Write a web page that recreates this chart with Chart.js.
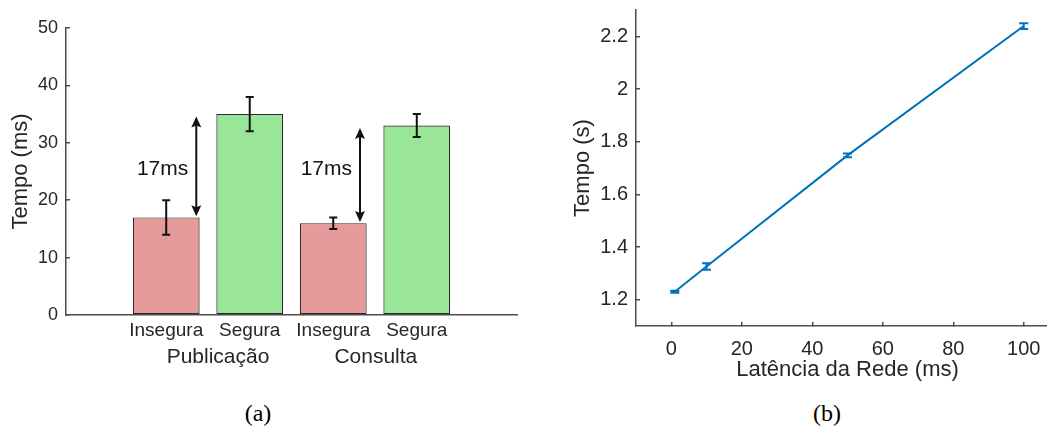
<!DOCTYPE html>
<html>
<head>
<meta charset="utf-8">
<script src="https://cdn.jsdelivr.net/npm/chart.js@4.4.1/dist/chart.umd.min.js"></script>
<style>
  html, body { margin: 0; padding: 0; background: #fff; overflow: hidden; }
  body { width: 1047px; height: 430px; position: relative; }
  canvas { position: absolute; top: 0; }
  #chartA { left: 0; }
  #chartB { left: 560px; }
  .caption {
    position: absolute; top: 400px; line-height: 28px;
    font: 24px "Liberation Serif", "Times New Roman", serif; color: #000;
    transform: translateX(-50%);
  }
</style>
</head>
<body>
<canvas id="chartA" width="530" height="390"></canvas>
<canvas id="chartB" width="499" height="390"></canvas>
<div class="caption" style="left:258px">(a)</div>
<div class="caption" style="left:827px">(b)</div>
<script>
// (a) tempo por operação
const barLabels = ['Insegura', 'Segura', 'Insegura', 'Segura'];
const barPos = [1, 2, 3, 4];
const barValues = [17, 35, 16, 33];
const barErrors = [3, 3, 1, 2];
const barColors = ['#e69999', '#99e699', '#e69999', '#99e699'];
const groupLabels = ['Publicação', 'Consulta'];
const groupPos = [1.62, 3.51];
const yTicksA = [0, 10, 20, 30, 40, 50];

// setas de diferença
const gapLabels = ['17ms', '17ms'];
const gapX = [1.36, 3.32];
const gapFrom = [17.2, 16.2];
const gapTo = [34.6, 32.6];
const gapLabelY = [25.4, 25.4];

// (b) tempo x latência
const latency = [1, 10, 50, 100];
const tempo = [1.23, 1.326, 1.748, 2.239];
const tempoErr = [0.004, 0.012, 0.007, 0.011];
const xTicksB = [0, 20, 40, 60, 80, 100];
const yTicksB = [1.2, 1.4, 1.6, 1.8, 2, 2.2];

const axisColor = '#4d4d4d';
const textColor = '#262626';
Chart.defaults.font.family = '"Liberation Sans", Arial, Helvetica, sans-serif';
Chart.defaults.color = textColor;

// sem folga extra para os rótulos das pontas
function noLabelPadding(s) {
  s.paddingTop = 0; s.paddingBottom = 0;
  s.paddingLeft = 0; s.paddingRight = 0;
}

function errorBars(xs, ys, errs, color, cap, width) {
  return {
    id: 'errorBars',
    afterDatasetsDraw(chart) {
      const { ctx, scales: { x, y } } = chart;
      ctx.save();
      ctx.strokeStyle = color;
      ctx.lineWidth = width;
      xs.forEach((v, i) => {
        const px = x.getPixelForValue(v);
        const top = y.getPixelForValue(ys[i] + errs[i]);
        const bot = y.getPixelForValue(ys[i] - errs[i]);
        ctx.beginPath();
        ctx.moveTo(px, top); ctx.lineTo(px, bot);
        ctx.moveTo(px - cap, top); ctx.lineTo(px + cap, top);
        ctx.moveTo(px - cap, bot); ctx.lineTo(px + cap, bot);
        ctx.stroke();
      });
      ctx.restore();
    }
  };
}

function arrowHead(ctx, x, y, dir) {
  // dir -1: ponta para cima, 1: ponta para baixo
  const len = 11, half = 5, notch = 2;
  ctx.beginPath();
  ctx.moveTo(x, y);
  ctx.lineTo(x - half, y - dir * len);
  ctx.lineTo(x, y - dir * (len - notch));
  ctx.lineTo(x + half, y - dir * len);
  ctx.closePath();
  ctx.fill();
}

const annotations = {
  id: 'annotations',
  afterDraw(chart) {
    const { ctx, chartArea, scales: { x, y } } = chart;
    ctx.save();
    ctx.strokeStyle = '#111';
    ctx.fillStyle = '#111';
    ctx.lineWidth = 2;
    gapX.forEach((v, i) => {
      const px = x.getPixelForValue(v);
      const top = y.getPixelForValue(gapTo[i]);
      const bot = y.getPixelForValue(gapFrom[i]);
      ctx.beginPath();
      ctx.moveTo(px, top + 6);
      ctx.lineTo(px, bot - 6);
      ctx.stroke();
      arrowHead(ctx, px, top, -1);
      arrowHead(ctx, px, bot, 1);
      ctx.font = '21px "Liberation Sans", Arial, sans-serif';
      ctx.textAlign = 'right';
      ctx.textBaseline = 'middle';
      ctx.fillText(gapLabels[i], px - 8, y.getPixelForValue(gapLabelY[i]));
    });
    // rótulos de grupo
    ctx.fillStyle = textColor;
    ctx.font = '21px "Liberation Sans", Arial, sans-serif';
    ctx.textAlign = 'center';
    groupLabels.forEach((g, i) => {
      ctx.fillText(g, x.getPixelForValue(groupPos[i]), chartArea.bottom + 42);
    });
    ctx.restore();
  }
};

new Chart(document.getElementById('chartA'), {
  type: 'bar',
  data: {
    datasets: [{
      data: barPos.map((p, i) => ({ x: p, y: barValues[i] })),
      backgroundColor: barColors,
      borderColor: '#2b2b2b',
      borderWidth: 1.2,
      borderSkipped: false,
      categoryPercentage: 1,
      barPercentage: 0.8
    }]
  },
  options: {
    responsive: false,
    animation: false,
    layout: { padding: { left: 0, right: 13, top: 28, bottom: 0 } },
    plugins: { legend: { display: false }, tooltip: { enabled: false } },
    scales: {
      x: {
        type: 'linear', min: -0.2, max: 5.2, offset: false,
        grid: { display: false, drawTicks: false },
        border: { color: axisColor, width: 1.5 },
        afterBuildTicks: s => { s.ticks = barPos.map(v => ({ value: v })); },
        ticks: {
          callback: (v, i) => barLabels[i],
          font: { size: 19 }, padding: 4, maxRotation: 0, autoSkip: false
        },
        afterFit: s => { s.height = 75; noLabelPadding(s); }
      },
      y: {
        min: 0, max: 50,
        afterBuildTicks: s => { s.ticks = yTicksA.map(v => ({ value: v })); },
        grid: { drawOnChartArea: false, tickLength: -4, color: axisColor, lineWidth: 1.5 },
        border: { color: axisColor, width: 1.5 },
        ticks: { font: { size: 18 }, padding: 12 },
        title: { display: true, text: 'Tempo (ms)', font: { size: 22 }, padding: { top: 8, bottom: 0 } },
        afterFit: s => { s.width = 66; noLabelPadding(s); }
      }
    }
  },
  plugins: [errorBars(barPos, barValues, barErrors, '#111', 4, 2), annotations]
});

new Chart(document.getElementById('chartB'), {
  type: 'line',
  data: {
    datasets: [{
      data: latency.map((l, i) => ({ x: l, y: tempo[i] })),
      borderColor: '#0072bd',
      borderWidth: 2,
      pointRadius: 0,
      tension: 0
    }]
  },
  options: {
    responsive: false,
    animation: false,
    layout: { padding: { left: 0, right: 0, top: 10, bottom: 0 } },
    plugins: { legend: { display: false }, tooltip: { enabled: false } },
    scales: {
      x: {
        type: 'linear', min: -10, max: 110,
        afterBuildTicks: s => { s.ticks = xTicksB.map(v => ({ value: v })); },
        grid: { drawOnChartArea: false, tickLength: -4, color: axisColor, lineWidth: 1.5 },
        border: { color: axisColor, width: 1.5 },
        ticks: { font: { size: 20 }, padding: 15, maxRotation: 0, autoSkip: false },
        title: { display: true, text: 'Latência da Rede (ms)', font: { size: 22 }, padding: { top: 0, bottom: 7 } },
        afterFit: s => { s.height = 64; noLabelPadding(s); }
      },
      y: {
        min: 1.1, max: 2.3,
        afterBuildTicks: s => { s.ticks = yTicksB.map(v => ({ value: v })); },
        grid: { drawOnChartArea: false, tickLength: -4, color: axisColor, lineWidth: 1.5 },
        border: { color: axisColor, width: 1.5 },
        ticks: { font: { size: 20 }, padding: 12, callback: v => String(v) },
        title: { display: true, text: 'Tempo (s)', font: { size: 22 }, padding: { top: 10, bottom: 0 } },
        afterFit: s => { s.width = 76; noLabelPadding(s); }
      }
    }
  },
  plugins: [errorBars(latency, tempo, tempoErr, '#0072bd', 4.5, 2)]
});
</script>
</body>
</html>
